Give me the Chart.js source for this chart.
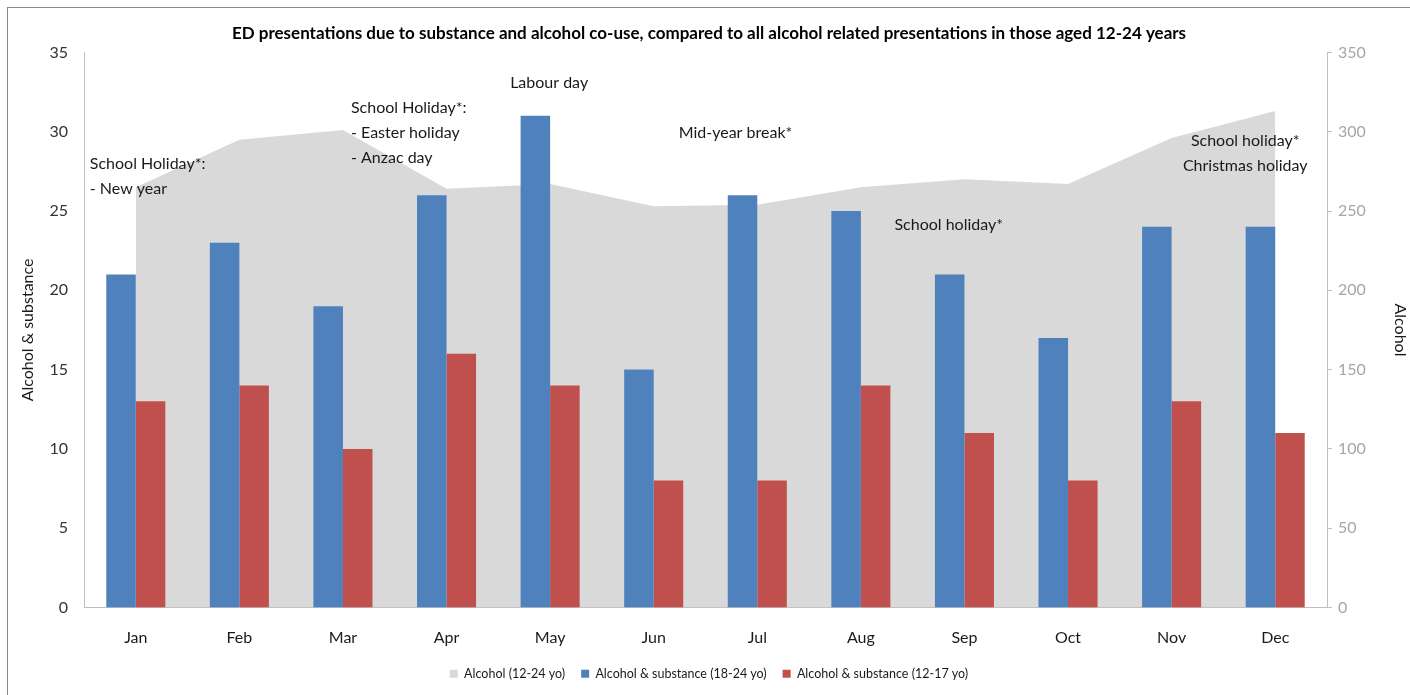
<!DOCTYPE html>
<html>
<head>
<meta charset="utf-8">
<script src="https://cdn.jsdelivr.net/npm/chart.js@4.4.1/dist/chart.umd.min.js"></script>
<style>
  html, body { margin: 0; padding: 0; background: #fff; }
  #wrap { width: 1410px; height: 695px; position: relative; }
</style>
</head>
<body>
<div id="wrap"><canvas id="chart"></canvas></div>
<script>
const months = ['Jan', 'Feb', 'Mar', 'Apr', 'May', 'Jun', 'Jul', 'Aug', 'Sep', 'Oct', 'Nov', 'Dec']
const alcoholAll = [265, 295, 301, 264, 267, 253, 254, 265, 270, 267, 296, 313]
const coUse18to24 = [21, 23, 19, 26, 31, 15, 26, 25, 21, 17, 24, 24]
const coUse12to17 = [13, 14, 10, 16, 14, 8, 8, 14, 11, 8, 13, 11]
const leftTicks = [0, 5, 10, 15, 20, 25, 30, 35]
const rightTicks = [0, 50, 100, 150, 200, 250, 300, 350]

const FONT = 'Lato, "Open Sans", sans-serif'

// holiday notes, placed against a month and the left axis
const notes = [
  { cat: 0, dx: -46, val: 28.0, align: 'left', lines: ['School Holiday*:', '- New year'] },
  { cat: 2, dx: 8, val: 31.5, align: 'left', lines: ['School Holiday*:', '- Easter holiday', '- Anzac day'] },
  { cat: 4, dx: -40, val: 33.1, align: 'left', lines: ['Labour day'] },
  { cat: 5, dx: 25, val: 29.9, align: 'left', lines: ['Mid-year break*'] },
  { cat: 8, dx: -70, val: 24.1, align: 'left', lines: ['School holiday*'] },
  { cat: 11, dx: -30, val: 29.45, align: 'center', lines: ['School holiday*', 'Christmas holiday'] }
]

const notesPlugin = {
  id: 'notes',
  afterDatasetsDraw(chart) {
    const { ctx, scales: { x, y } } = chart
    ctx.save()
    ctx.font = '16px ' + FONT
    ctx.fillStyle = '#1a1a1a'
    ctx.textBaseline = 'middle'
    notes.forEach(n => {
      const px = x.getPixelForValue(n.cat) + n.dx
      const py = y.getPixelForValue(n.val)
      ctx.textAlign = n.align
      n.lines.forEach((t, i) => ctx.fillText(t, px, py + i * 25))
    })
    ctx.restore()
  }
}

const framePlugin = {
  id: 'frame',
  afterDraw(chart) {
    const ctx = chart.ctx
    ctx.save()
    ctx.strokeStyle = '#8a8a8a'
    ctx.lineWidth = 1
    ctx.strokeRect(7.5, 7.5, 1420, 700)
    ctx.restore()
  }
}

new Chart(document.getElementById('chart'), {
  type: 'bar',
  data: {
    labels: months,
    datasets: [
      {
        type: 'line',
        label: 'Alcohol (12-24 yo)',
        data: alcoholAll,
        yAxisID: 'y1',
        fill: 'origin',
        backgroundColor: '#d9d9d9',
        borderColor: '#d9d9d9',
        borderWidth: 0,
        pointRadius: 0,
        tension: 0,
        order: 2
      },
      {
        label: 'Alcohol & substance (18-24 yo)',
        data: coUse18to24,
        yAxisID: 'y',
        backgroundColor: '#4f81bd',
        order: 1
      },
      {
        label: 'Alcohol & substance (12-17 yo)',
        data: coUse12to17,
        yAxisID: 'y',
        backgroundColor: '#c0504d',
        order: 1
      }
    ]
  },
  options: {
    responsive: true,
    maintainAspectRatio: false,
    animation: false,
    events: [],
    layout: { padding: { left: 8, right: 0, top: 0, bottom: 5 } },
    datasets: { bar: { barPercentage: 1, categoryPercentage: 0.57 } },
    plugins: {
      title: {
        display: true,
        text: 'ED presentations due to substance and alcohol co-use, compared to all alcohol related presentations in those aged 12-24 years',
        font: { family: FONT, size: 17, weight: 'bold' },
        color: '#000',
        padding: { top: 23, bottom: 9 }
      },
      legend: {
        position: 'bottom',
        labels: {
          font: { family: FONT, size: 12.5 },
          color: '#1a1a1a',
          boxWidth: 8,
          boxHeight: 8,
          padding: 16,
          sort: (a, b) => a.datasetIndex - b.datasetIndex
        }
      },
      tooltip: { enabled: false }
    },
    scales: {
      x: {
        grid: { display: false, drawTicks: false },
        border: { color: '#bfbfbf' },
        ticks: { font: { family: FONT, size: 16 }, color: '#1a1a1a', padding: 21 },
        afterFit(s) { s.height = 44 }
      },
      y: {
        position: 'left',
        min: 0,
        max: 35,
        afterBuildTicks(s) { s.ticks = leftTicks.map(v => ({ value: v })) },
        grid: { display: false, drawTicks: false },
        border: { color: '#bfbfbf' },
        ticks: { font: { family: FONT, size: 16 }, color: '#333', padding: 16 },
        title: { display: true, text: 'Alcohol & substance', font: { family: FONT, size: 16 }, color: '#1a1a1a', padding: { top: 10, bottom: 0 } },
        afterFit(s) { s.width = 76 }
      },
      y1: {
        position: 'right',
        min: 0,
        max: 350,
        afterBuildTicks(s) { s.ticks = rightTicks.map(v => ({ value: v })) },
        grid: { drawOnChartArea: false, drawTicks: true, tickLength: 5, color: '#bfbfbf' },
        border: { color: '#bfbfbf' },
        ticks: { font: { family: FONT, size: 16 }, color: '#a6a6a6', padding: 6 },
        title: { display: true, text: 'Alcohol', font: { family: FONT, size: 16 }, color: '#1a1a1a', padding: { top: 0, bottom: 4 } },
        afterFit(s) { s.width = 83 }
      }
    }
  },
  plugins: [notesPlugin, framePlugin]
})
</script>
</body>
</html>
